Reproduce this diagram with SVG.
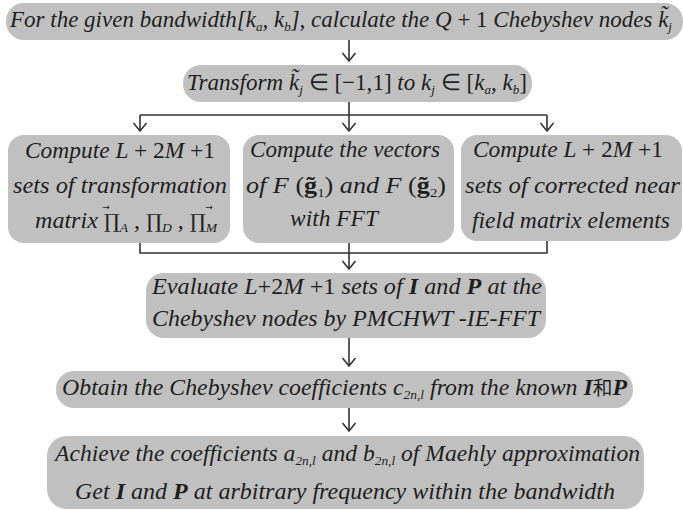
<svg xmlns="http://www.w3.org/2000/svg" width="683" height="510" viewBox="0 0 683 510">
<style>
.box { fill: #c0c0c0; }
.t { font-family: 'Liberation Serif', serif; font-style: italic; fill: #1e1e1e; font-size: 23px; }
.b { font-weight: bold; }
.u { font-style: normal; }
.s { font-size: 13px; }
.pi { font-family: 'DejaVu Serif', serif; font-style: normal; font-size: 19px; }
.ar { font-family: 'DejaVu Sans', sans-serif; font-size: 9px; fill: #1e1e1e; text-anchor: middle; }
.cjk { font-family: 'Noto Sans CJK SC', sans-serif; font-style: normal; font-size: 19px; }
.ln { fill: none; stroke: #333333; stroke-width: 1.6; }
</style>
<defs>
<marker id="ah" markerUnits="userSpaceOnUse" markerWidth="12" markerHeight="16" viewBox="0 0 12 16" refX="9" refY="8" orient="auto">
<path d="M1,1.5 L9,8 L1,14.5" fill="none" stroke="#333333" stroke-width="1.6"/>
</marker>
</defs>
<rect width="683" height="510" fill="#ffffff"/>

<g id="connectors">
<line class="ln" x1="349" y1="40" x2="349" y2="61" marker-end="url(#ah)"/>
<polyline class="ln" points="349,102 349,115"/>
<polyline class="ln" points="140,115 547,115"/>
<line class="ln" x1="140" y1="115" x2="140" y2="131" marker-end="url(#ah)"/>
<line class="ln" x1="349" y1="115" x2="349" y2="131" marker-end="url(#ah)"/>
<line class="ln" x1="547" y1="115" x2="547" y2="131" marker-end="url(#ah)"/>
<polyline class="ln" points="140,243 140,253 547,253 547,241"/>
<line class="ln" x1="349" y1="243" x2="349" y2="253"/>
<line class="ln" x1="349" y1="253" x2="349" y2="269" marker-end="url(#ah)"/>
<line class="ln" x1="349" y1="338" x2="349" y2="366" marker-end="url(#ah)"/>
<line class="ln" x1="349" y1="408" x2="349" y2="431" marker-end="url(#ah)"/>
</g>

<g id="n1">
<rect class="box" x="6" y="3" width="677" height="37" rx="18"/>
<text class="t" x="10" y="27" textLength="662" lengthAdjust="spacingAndGlyphs">For the given bandwidth[k<tspan class="s" dy="4">a</tspan><tspan dy="-4">, k</tspan><tspan class="s" dy="4">b</tspan><tspan dy="-4">], calculate the Q </tspan><tspan class="u">+ 1</tspan> Chebyshev nodes k̃<tspan class="s" dy="4">j</tspan></text>
</g>

<g id="n2">
<rect class="box" x="183" y="65" width="349" height="37" rx="18"/>
<text class="t" x="187" y="90" textLength="340" lengthAdjust="spacingAndGlyphs">Transform k̃<tspan class="s" dy="4">j</tspan><tspan dy="-4" class="u"> ∈ [−1,1] </tspan>to k<tspan class="s" dy="4">j</tspan><tspan dy="-4" class="u"> ∈ [</tspan>k<tspan class="s" dy="4">a</tspan><tspan dy="-4">, k</tspan><tspan class="s" dy="4">b</tspan><tspan dy="-4" class="u">]</tspan></text>
</g>

<g id="n3">
<rect class="box" x="8" y="135" width="222" height="108" rx="16"/>
<text class="t" x="25" y="158" textLength="190" lengthAdjust="spacingAndGlyphs">Compute L <tspan class="u">+ 2</tspan>M <tspan class="u">+1</tspan></text>
<text class="t" x="13" y="193" textLength="214" lengthAdjust="spacingAndGlyphs">sets of  transformation</text>
<text class="t" x="35" y="228" textLength="182" lengthAdjust="spacingAndGlyphs">matrix <tspan class="pi">∏</tspan><tspan class="s" dy="4">A</tspan><tspan dy="-4" class="u"> , </tspan><tspan class="pi">∏</tspan><tspan class="s" dy="4">D</tspan><tspan dy="-4" class="u"> , </tspan><tspan class="pi">∏</tspan><tspan class="s" dy="4">M</tspan></text>
<text class="ar" x="106" y="210">→</text>
<text class="ar" x="209" y="210">→</text>
</g>

<g id="n4">
<rect class="box" x="243" y="135" width="211" height="108" rx="16"/>
<text class="t" x="250" y="157" textLength="190" lengthAdjust="spacingAndGlyphs">Compute the vectors</text>
<text class="t" x="246" y="193" textLength="200" lengthAdjust="spacingAndGlyphs">of F <tspan class="u">(</tspan><tspan class="u b">g̃</tspan><tspan class="s u" dy="4">1</tspan><tspan dy="-4" class="u">)</tspan> and F <tspan class="u">(</tspan><tspan class="u b">g̃</tspan><tspan class="s u" dy="4">2</tspan><tspan dy="-4" class="u">)</tspan></text>
<text class="t" x="290" y="226" textLength="88" lengthAdjust="spacingAndGlyphs">with FFT</text>
</g>

<g id="n5">
<rect class="box" x="461" y="135" width="221" height="106" rx="16"/>
<text class="t" x="473" y="157" textLength="190" lengthAdjust="spacingAndGlyphs">Compute L <tspan class="u">+ 2</tspan>M <tspan class="u">+1</tspan></text>
<text class="t" x="465" y="193" textLength="215" lengthAdjust="spacingAndGlyphs">sets of  corrected  near</text>
<text class="t" x="472" y="228" textLength="198" lengthAdjust="spacingAndGlyphs">field matrix elements</text>
</g>

<g id="n6">
<rect class="box" x="146" y="273" width="400" height="65" rx="18"/>
<text class="t" x="152" y="294" textLength="390" lengthAdjust="spacingAndGlyphs">Evaluate L<tspan class="u">+2</tspan>M <tspan class="u">+1</tspan> sets of <tspan class="b">I</tspan> and  <tspan class="b">P</tspan> at the</text>
<text class="t" x="152" y="326" textLength="388" lengthAdjust="spacingAndGlyphs">Chebyshev nodes by PMCHWT -IE-FFT</text>
</g>

<g id="n7">
<rect class="box" x="56" y="371" width="577" height="37" rx="18"/>
<text class="t" x="62" y="395" textLength="565" lengthAdjust="spacingAndGlyphs">Obtain the Chebyshev coefficients c<tspan class="s" dy="4">2n,l</tspan><tspan dy="-4">  from the known </tspan><tspan class="b">I</tspan><tspan class="cjk">和</tspan><tspan class="b">P</tspan></text>
</g>

<g id="n8">
<rect class="box" x="47" y="436" width="597" height="73" rx="20"/>
<text class="t" x="55" y="461" textLength="585" lengthAdjust="spacingAndGlyphs">Achieve the coefficients a<tspan class="s" dy="4">2n,l</tspan><tspan dy="-4"> and b</tspan><tspan class="s" dy="4">2n,l</tspan><tspan dy="-4"> of  Maehly approximation</tspan></text>
<text class="t" x="75" y="499" textLength="540" lengthAdjust="spacingAndGlyphs">Get <tspan class="b">I</tspan>  and  <tspan class="b">P</tspan> at arbitrary  frequency within the bandwidth</text>
</g>
</svg>
